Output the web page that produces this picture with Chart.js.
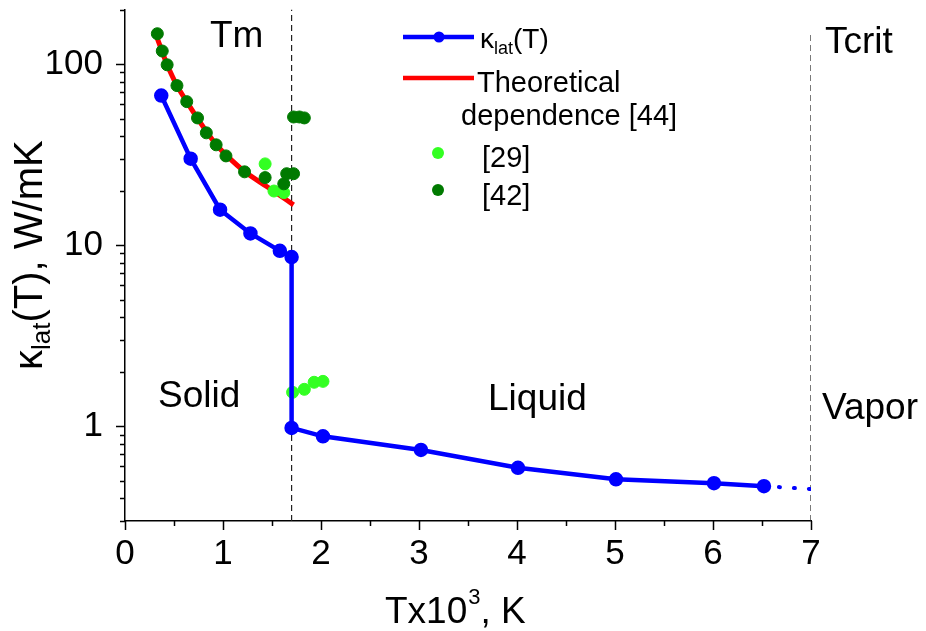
<!DOCTYPE html>
<html>
<head>
<meta charset="utf-8">
<script src="https://cdn.jsdelivr.net/npm/chart.js@4/dist/chart.umd.min.js"></script>
<style>
html, body { margin: 0; padding: 0; background: #fff; }
#contenedor { width: 926px; height: 631px; }
</style>
</head>
<body>
<div id="contenedor"><canvas id="grafica"></canvas></div>
<script>
// kappa_lat(T), T en miles de K
const tempKappa = [0.37, 0.67, 0.97, 1.28, 1.58, 1.70, 1.70, 2.02, 3.02, 4.01, 5.01, 6.01, 6.52];
const kappaLat = [67, 30, 15.7, 11.6, 9.3, 8.6, 0.98, 0.88, 0.74, 0.59, 0.51, 0.485, 0.467];
// extrapolacion punteada hasta Tcrit
const tempExtrap = [6.52, 7.0];
const kappaExtrap = [0.467, 0.45];
// dependencia teorica [44]
const tempTeoria = [0.32, 0.38, 0.43, 0.53, 0.63, 0.73, 0.83, 0.93, 1.03, 1.22, 1.45, 1.60, 1.72];
const kappaTeoria = [143, 117, 99, 76, 62, 51, 42.5, 36, 31.5, 25.5, 21, 18.5, 16.7];
// datos [29]
const tempRef29 = [1.43, 1.52, 1.62, 1.71, 1.83, 1.93, 2.02];
const kappaRef29 = [28.1, 19.9, 19.5, 1.54, 1.60, 1.75, 1.77];
// datos [42]
const tempRef42 = [0.33, 0.38, 0.43, 0.53, 0.63, 0.74, 0.83, 0.93, 1.03, 1.22, 1.43, 1.62, 1.65, 1.72, 1.72, 1.78, 1.83];
const kappaRef42 = [147, 118, 99, 76, 62, 50.4, 41.7, 35.8, 31.1, 25.4, 23.6, 21.8, 24.8, 24.8, 51, 51, 50.4];
// lineas verticales Tm y Tcrit
const tFusion = [1.7, 1.7];
const kFusion = [0.3, 200];
const tCritica = [7.0, 7.0];
const kCritica = [0.3, 150];
// ticks
const xTicks = [0, 1, 2, 3, 4, 5, 6, 7];
const yTicksEtiqueta = [1, 10, 100];

const FUENTE = '"Liberation Sans", Arial, sans-serif';

function puntos(xs, ys) {
    return xs.map((v, i) => ({ x: v, y: ys[i] }));
}

const decoracion = {
    id: 'decoracion',
    afterDraw(chart) {
        const { ctx, chartArea } = chart;
        const x = chart.scales.x;
        const y = chart.scales.y;
        ctx.save();
        ctx.strokeStyle = '#000';
        ctx.lineWidth = 1.5;
        ctx.beginPath();
        // ticks eje x
        for (let v = 0; v <= 7; v += 0.5) {
            const px = Math.round(x.getPixelForValue(v)) + 0.5;
            const len = Number.isInteger(v) ? 9 : 5;
            ctx.moveTo(px, chartArea.bottom);
            ctx.lineTo(px, chartArea.bottom + len);
        }
        // ticks eje y (log)
        for (let e = -1; e <= 2; e++) {
            for (let m = 1; m <= 9; m++) {
                const v = m * Math.pow(10, e);
                if (v < 0.3 || v > 200) continue;
                const py = Math.round(y.getPixelForValue(v)) + 0.5;
                const len = m === 1 ? 9 : 5;
                ctx.moveTo(chartArea.left, py);
                ctx.lineTo(chartArea.left - len, py);
            }
        }
        ctx.stroke();

        ctx.fillStyle = '#000';
        ctx.textAlign = 'left';
        ctx.textBaseline = 'alphabetic';
        const texto = (s, px, py, size) => {
            ctx.font = size + 'px ' + FUENTE;
            ctx.fillText(s, px, py);
            return ctx.measureText(s).width;
        };

        // anotaciones
        texto('Tm', 210, 47, 37);
        texto('Tcrit', 825, 53, 37);
        texto('Solid', 158, 407, 37);
        texto('Liquid', 488, 410, 37);
        texto('Vapor', 822, 419, 37);

        // titulo eje x
        let cx = 385;
        cx += texto('Tx10', cx, 623, 37);
        cx += texto('3', cx + 1, 604, 22) + 1;
        texto(', K', cx, 623, 37);

        // titulo eje y
        ctx.save();
        ctx.translate(42, 370);
        ctx.rotate(-Math.PI / 2);
        let cy = 0;
        cy += texto('\u03BA', cy, 0, 40);
        cy += texto('lat', cy, 8, 26);
        texto('(T), W/mK', cy, 0, 40);
        ctx.restore();

        // leyenda
        ctx.lineCap = 'butt';
        ctx.lineWidth = 4.5;
        ctx.strokeStyle = '#0000ff';
        ctx.beginPath(); ctx.moveTo(403, 37); ctx.lineTo(474, 37); ctx.stroke();
        ctx.fillStyle = '#0000ff';
        ctx.beginPath(); ctx.arc(439, 37, 5.5, 0, 2 * Math.PI); ctx.fill();
        ctx.strokeStyle = '#ff0000';
        ctx.beginPath(); ctx.moveTo(403, 78); ctx.lineTo(474, 78); ctx.stroke();
        ctx.fillStyle = '#33ff22';
        ctx.beginPath(); ctx.arc(438, 153, 6, 0, 2 * Math.PI); ctx.fill();
        ctx.fillStyle = '#007a00';
        ctx.beginPath(); ctx.arc(438, 190, 6, 0, 2 * Math.PI); ctx.fill();

        ctx.fillStyle = '#000';
        let lx = 480;
        lx += texto('\u03BA', lx, 48, 28);
        lx += texto('lat', lx, 54, 18);
        texto('(T)', lx, 48, 28);
        texto('Theoretical', 477, 92, 29);
        texto('dependence [44]', 461, 125, 29);
        texto('[29]', 482, 167, 29);
        texto('[42]', 482, 205, 29);
        ctx.restore();
    }
};

const sinRelleno = (scale) => {
    scale.paddingTop = 0;
    scale.paddingBottom = 0;
    scale.paddingLeft = 0;
    scale.paddingRight = 0;
};

const ctx = document.getElementById('grafica').getContext('2d');
window.grafica = new Chart(ctx, {
    type: 'scatter',
    data: {
        datasets: [
            {
                label: '[42]',
                data: puntos(tempRef42, kappaRef42),
                backgroundColor: '#007a00',
                borderColor: '#007a00',
                pointRadius: 6,
                order: 1
            },
            {
                label: '[29]',
                data: puntos(tempRef29, kappaRef29),
                backgroundColor: '#33ff22',
                borderColor: '#33ff22',
                pointRadius: 6,
                order: 2
            },
            {
                label: 'Theoretical dependence [44]',
                data: puntos(tempTeoria, kappaTeoria),
                showLine: true,
                borderColor: '#ff0000',
                borderWidth: 5,
                pointRadius: 0,
                tension: 0.3,
                order: 3
            },
            {
                label: 'kappa_lat(T)',
                data: puntos(tempKappa, kappaLat),
                showLine: true,
                borderColor: '#0000ff',
                backgroundColor: '#0000ff',
                borderWidth: 4.5,
                pointRadius: 5,
                tension: 0,
                order: 0
            },
            {
                label: 'extrapolacion',
                data: puntos(tempExtrap, kappaExtrap),
                showLine: true,
                borderColor: '#0000ff',
                borderWidth: 4,
                borderDash: [1, 14],
                borderCapStyle: 'round',
                pointRadius: 0,
                order: 4
            },
            {
                label: 'Tm',
                data: puntos(tFusion, kFusion),
                showLine: true,
                borderColor: '#222',
                borderWidth: 1.2,
                borderDash: [6, 4],
                pointRadius: 0,
                order: 5
            },
            {
                label: 'Tcrit',
                data: puntos(tCritica, kCritica),
                showLine: true,
                borderColor: '#222',
                borderWidth: 1.2,
                borderDash: [6, 4],
                pointRadius: 0,
                order: 6
            }
        ]
    },
    options: {
        responsive: true,
        maintainAspectRatio: false,
        animation: false,
        layout: { padding: { top: 8, right: 115, left: 0, bottom: 0 } },
        plugins: {
            legend: { display: false },
            tooltip: { enabled: false }
        },
        scales: {
            x: {
                type: 'linear',
                min: 0,
                max: 7,
                afterFit: (scale) => { scale.height = 110; sinRelleno(scale); },
                afterBuildTicks: (scale) => { scale.ticks = xTicks.map(v => ({ value: v })); },
                grid: { display: false, drawTicks: false },
                border: { display: true, color: '#000', width: 1.5 },
                ticks: {
                    color: '#000',
                    padding: 12,
                    font: { family: FUENTE, size: 35 }
                }
            },
            y: {
                type: 'logarithmic',
                min: 0.3,
                max: 200,
                afterFit: (scale) => { scale.width = 125; sinRelleno(scale); },
                afterBuildTicks: (scale) => { scale.ticks = yTicksEtiqueta.map(v => ({ value: v })); },
                grid: { display: false, drawTicks: false },
                border: { display: true, color: '#000', width: 1.5 },
                ticks: {
                    color: '#000',
                    padding: 22,
                    autoSkip: false,
                    callback: (v) => String(v),
                    font: { family: FUENTE, size: 35 }
                }
            }
        }
    },
    plugins: [decoracion]
});
</script>
</body>
</html>
